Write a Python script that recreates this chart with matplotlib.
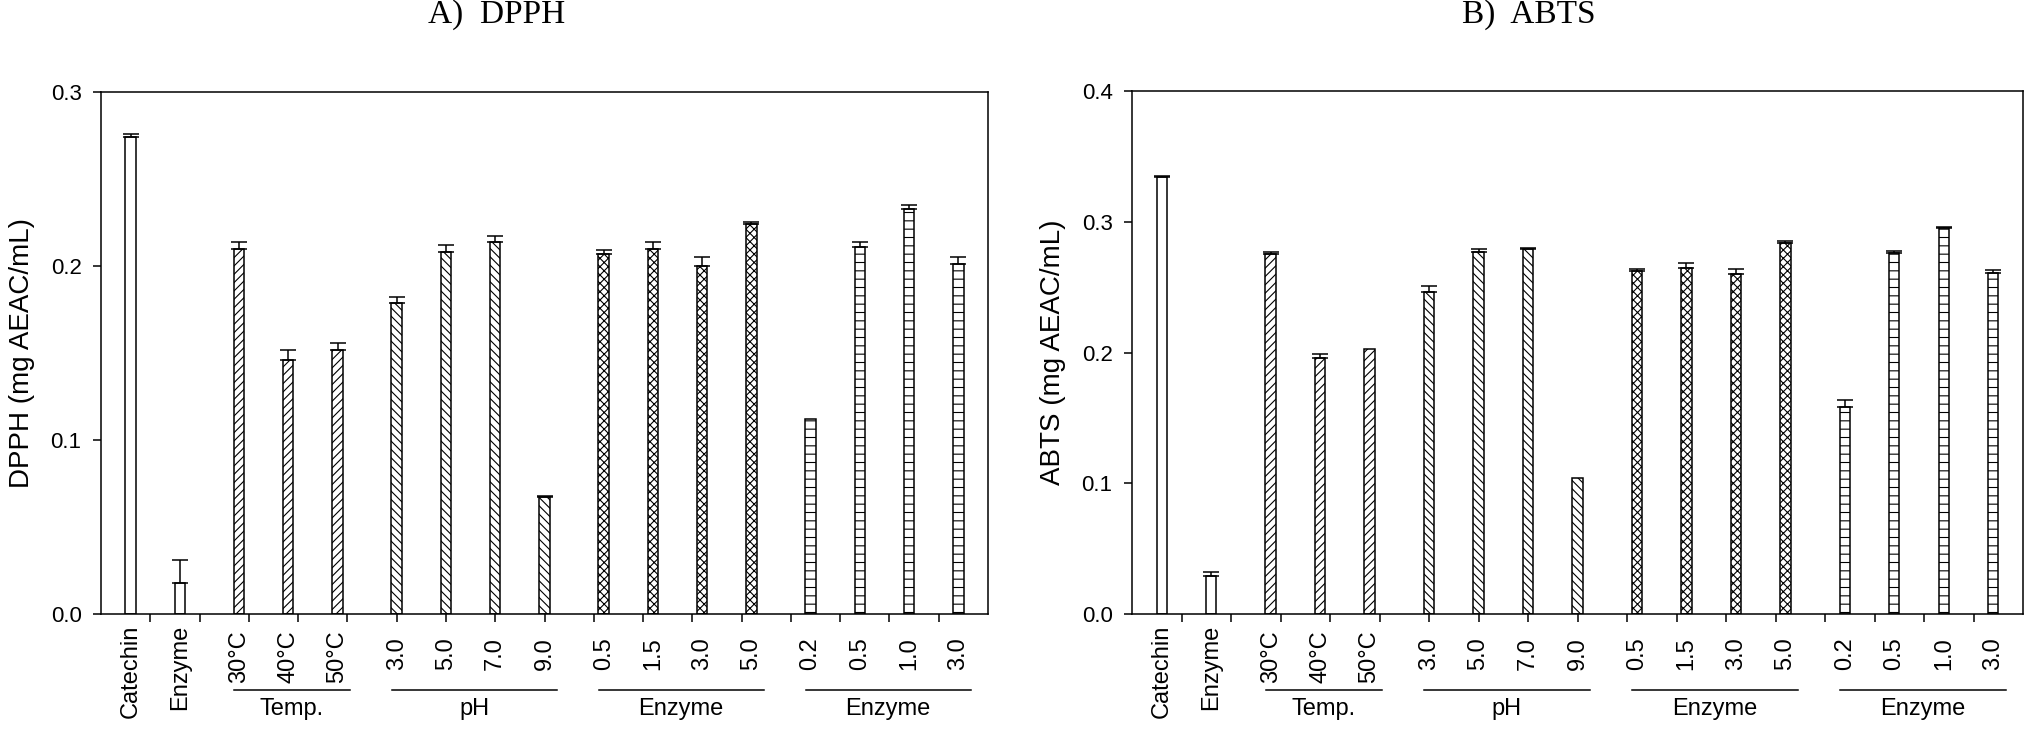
import matplotlib
matplotlib.use("Agg")
import matplotlib.pyplot as plt
from matplotlib.transforms import blended_transform_factory, offset_copy

plt.rcParams['font.family'] = ['Liberation Sans', 'DejaVu Sans']
plt.rcParams['hatch.linewidth'] = 0.8

# ---------------- data ----------------
categories = ["Catechin", "Enzyme", "30°C", "40°C", "50°C",
              "3.0", "5.0", "7.0", "9.0",
              "0.5", "1.5", "3.0", "5.0",
              "0.2", "0.5", "1.0", "3.0"]
group_ids = [0, 0, 1, 1, 1, 2, 2, 2, 2, 3, 3, 3, 3, 4, 4, 4, 4]
group_labels = {1: "Temp.", 2: "pH", 3: "Enzyme", 4: "Enzyme"}

dpph = [0.274, 0.018, 0.210, 0.146, 0.152, 0.179, 0.208, 0.214, 0.067,
        0.207, 0.210, 0.200, 0.224, 0.112, 0.211, 0.233, 0.201]
dpph_err = [0.002, 0.013, 0.004, 0.006, 0.004, 0.003, 0.004, 0.003, 0.001,
            0.002, 0.004, 0.005, 0.001, 0.0, 0.003, 0.002, 0.004]

abts = [0.334, 0.029, 0.275, 0.196, 0.203, 0.246, 0.277, 0.279, 0.104,
        0.262, 0.265, 0.260, 0.284, 0.158, 0.276, 0.295, 0.261]
abts_err = [0.001, 0.003, 0.002, 0.003, 0.0, 0.005, 0.002, 0.001, 0.0,
            0.0015, 0.0035, 0.004, 0.001, 0.006, 0.002, 0.001, 0.002]

panels = [
    dict(title="A)  DPPH", ylabel="DPPH (mg AEAC/mL)", values=dpph, errs=dpph_err,
         ymax=0.3, yticks=[0.0, 0.1, 0.2, 0.3]),
    dict(title="B)  ABTS", ylabel="ABTS (mg AEAC/mL)", values=abts, errs=abts_err,
         ymax=0.4, yticks=[0.0, 0.1, 0.2, 0.3, 0.4]),
]

# ---------------- style ----------------
hatches = {0: '', 1: '////', 2: '\\\\\\\\', 3: 'xxxx', 4: '--'}
W, H = 2030, 732
fig = plt.figure(figsize=(W / 100, H / 100), dpi=100)

axes_px = [(101, 92, 988, 614), (1132, 91, 2023, 614)]
title_x = [497, 1529]
ylabel_right_x = [35, 1066]

# bar positions in slot units: step 1 inside groups, extra 0.2 between groups
positions = [0.6 + i + 0.2 * g for i, g in enumerate(group_ids)]
bar_w = 0.21

for k, p in enumerate(panels):
    x0, y0, x1, y1 = axes_px[k]
    ax = fig.add_axes([x0 / W, (H - y1) / H, (x1 - x0) / W, (y1 - y0) / H])
    ax.set_xlim(0, 18)
    ax.set_ylim(0, p['ymax'])

    for i, (pos, v, e) in enumerate(zip(positions, p['values'], p['errs'])):
        g = group_ids[i]
        ax.bar(pos, v, width=bar_w, color='white', edgecolor='black',
               linewidth=1.1, hatch=hatches[g], zorder=2)
        if e > 0:
            ax.errorbar(pos, v, yerr=[[0], [e]], fmt='none', ecolor='black',
                        elinewidth=1.1, capsize=6, capthick=1.1, zorder=3)

    # axes style
    for s in ax.spines.values():
        s.set_linewidth(1.1)
    ax.set_xticks(range(1, 18))
    ax.set_xticklabels([])
    ax.set_yticks(p['yticks'])
    ax.set_yticklabels([f"{t:.1f}" for t in p['yticks']])
    ax.tick_params(axis='both', direction='out', length=6, width=1.1,
                   top=False, right=False, labelsize=16, pad=8)
    ax.set_ylabel(p['ylabel'], fontsize=20)
    ax.yaxis.set_label_coords((ylabel_right_x[k] - x0) / (x1 - x0), 0.5)

    # category labels (rotated)
    trans = blended_transform_factory(ax.transData, ax.transAxes)
    for i, (pos, lab) in enumerate(zip(positions, categories)):
        g = group_ids[i]
        off = 11 if g == 0 else (16 if g == 1 else 23)
        ax.text(pos, 0, lab, transform=offset_copy(trans, fig, x=0, y=-off, units='dots'),
                rotation=90, ha='center', va='top', fontsize=17)

    # group lines and labels
    for g, glab in group_labels.items():
        idx = [i for i, gg in enumerate(group_ids) if gg == g]
        xa = positions[idx[0]] - 0.1
        xb = positions[idx[-1]] + 0.25
        ax.plot([xa, xb], [0, 0], color='black', lw=1.1, clip_on=False,
                transform=offset_copy(trans, fig, x=0, y=-76, units='dots'))
        ax.text((xa + xb) / 2, 0, glab,
                transform=offset_copy(trans, fig, x=0, y=-101, units='dots'),
                ha='center', va='baseline', fontsize=17)

    fig.text(title_x[k] / W, 1 - 15 / H, p['title'], ha='center', va='center',
             fontsize=24, family=['Liberation Serif', 'DejaVu Serif'])

fig.savefig("out.png", dpi=100)
